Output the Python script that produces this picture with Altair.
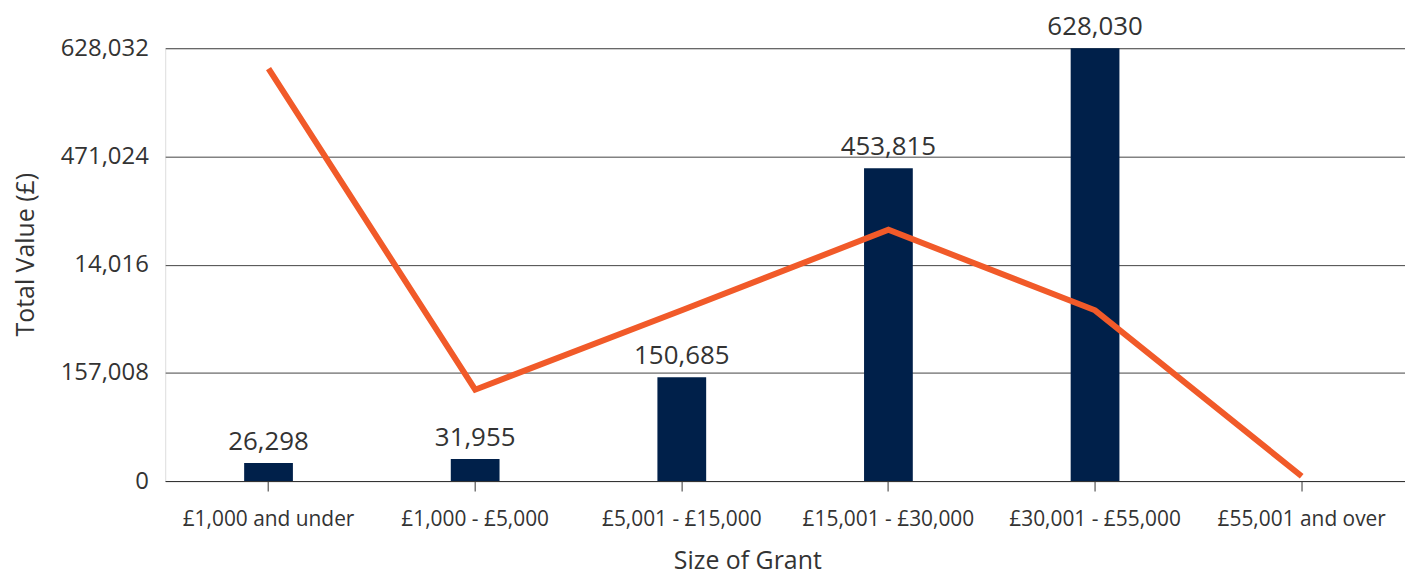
import altair as alt
import pandas as pd

categories = ["£1,000 and under", "£1,000 - £5,000", "£5,001 - £15,000",
              "£15,001 - £30,000", "£30,001 - £55,000", "£55,001 and over"]
total_values = [26298, 31955, 150685, 453815, 628030, None]
line_values = [34.3, 7.6, 14.2, 20.9, 14.2, 0.4]
tick_values = [0, 157008, 314016, 471024, 628032]
tick_labels = ["0", "157,008", "14,016", "471,024", "628,032"]

df = pd.DataFrame({"cat": categories, "total": total_values, "line": line_values})

FONT = "Open Sans"
NAVY = "#00204A"
ORANGE = "#F15A29"
TXT = "#333333"

label_expr = "".join(f"datum.value == {v} ? '{l}' : " for v, l in zip(tick_values, tick_labels)) + "''"

x = alt.X("cat:N", sort=categories, title="Size of Grant",
          scale=alt.Scale(paddingInner=0, paddingOuter=0),
          axis=alt.Axis(labelAngle=0, labelFontSize=21, labelColor=TXT, labelFont=FONT,
                        tickSize=10, tickColor="#333333", domainColor="#333333",
                        labelPadding=18, titleFontSize=25, titleFont=FONT,
                        titleColor=TXT, titleFontWeight="normal",
                        titleX=585, titleY=93, titleBaseline="bottom"))

y = alt.Y("total:Q", title="Total Value (£)",
          scale=alt.Scale(domain=[0, 628032], nice=False),
          axis=alt.Axis(values=tick_values, labelExpr=label_expr, ticks=False,
                        domain=False, grid=True, gridColor="#444444", gridWidth=1,
                        labelFontSize=24, labelFont=FONT, labelColor=TXT, labelPadding=17,
                        titleFontSize=25, titleFont=FONT, titleColor=TXT,
                        titleFontWeight="normal", titleX=-140, titleY=207,
                        titleBaseline="middle"))

bars = alt.Chart(df).mark_bar(size=49, color=NAVY).encode(x=x, y=y)

text = alt.Chart(df).mark_text(baseline="alphabetic", dy=-13, fontSize=26, font=FONT,
                               color=TXT).encode(
    x=alt.X("cat:N", sort=categories),
    y=alt.Y("total:Q"),
    text=alt.Text("total:Q", format=","))

line = alt.Chart(df).mark_line(color=ORANGE, strokeWidth=6, strokeCap="butt",
                               strokeJoin="miter").encode(
    x=alt.X("cat:N", sort=categories),
    y=alt.Y("line:Q", scale=alt.Scale(domain=[0, 36], nice=False), axis=None))

chart = alt.layer(bars + text, line).resolve_scale(y="independent").properties(
    width=1246, height=435,
    autosize=alt.AutoSizeParams(type="none"),
    padding={"left": 158, "top": 39, "right": 0, "bottom": 94},
).configure_view(stroke=None).configure(background="white")

chart.save("out.html", embed_options={"renderer": "svg", "actions": False})
